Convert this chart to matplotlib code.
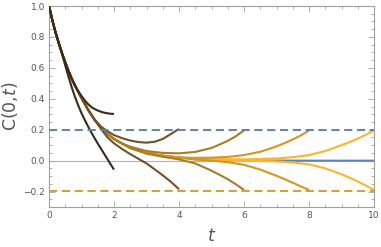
import matplotlib
matplotlib.use("Agg")
import matplotlib.pyplot as plt
from matplotlib.ticker import MultipleLocator

# exact correlation (blue, mostly hidden beneath the approximations)
t_exact = [0, 0.1, 0.2, 0.3, 0.4, 0.5, 0.6, 0.7, 0.8, 0.9, 1.0, 1.2, 1.4, 1.6, 1.8, 2.0,
           2.25, 2.5, 2.75, 3.0, 3.5, 4.0, 4.5, 5.0, 5.5, 6.0, 7.0, 8.0, 9.0, 10.0]
c_exact = [1, 0.91, 0.83, 0.76, 0.695, 0.635, 0.58, 0.53, 0.485, 0.445, 0.405, 0.33, 0.265,
           0.215, 0.172, 0.14, 0.11, 0.085, 0.066, 0.052, 0.032, 0.02, 0.012, 0.008, 0.005,
           0.003, 0.001, 0.0, 0.0, 0.0]

# Approximations: each follows the exact curve until its own branch starts
T_values = [2, 4, 6, 8, 10]

tu_2 = [0.9, 1.0, 1.1, 1.2, 1.3, 1.4, 1.5, 1.6, 1.7, 1.8, 1.9, 2.0]
up_2 = [0.45, 0.418, 0.39, 0.366, 0.347, 0.334, 0.324, 0.316, 0.31, 0.306, 0.303, 0.302]
tl_2 = [0.4, 0.5, 0.6, 0.7, 0.8, 0.9, 1.0, 1.1, 1.2, 1.3, 1.4, 1.5, 1.6, 1.7, 1.8, 1.9, 2.0]
lo_2 = [0.69, 0.615, 0.543, 0.474, 0.412, 0.357, 0.307, 0.263, 0.222, 0.183, 0.146, 0.111, 0.077,
        0.043, 0.009, -0.025, -0.058]

tu_4 = [1.6, 1.8, 2.0, 2.25, 2.5, 2.75, 3.0, 3.25, 3.5, 3.75, 4.0]
up_4 = [0.22, 0.19, 0.165, 0.145, 0.13, 0.12, 0.116, 0.122, 0.14, 0.172, 0.205]
tl_4 = [1.6, 1.8, 2.0, 2.25, 2.5, 2.75, 3.0, 3.25, 3.5, 3.75, 4.0]
lo_4 = [0.205, 0.15, 0.112, 0.075, 0.042, 0.012, -0.018, -0.056, -0.095, -0.137, -0.185]

tu_6 = [2.5, 3.0, 3.5, 4.0, 4.5, 5.0, 5.25, 5.5, 5.75, 6.0]
up_6 = [0.09, 0.062, 0.05, 0.047, 0.056, 0.082, 0.104, 0.128, 0.158, 0.195]
tl_6 = [2.5, 3.0, 3.5, 4.0, 4.5, 5.0, 5.25, 5.5, 5.75, 6.0]
lo_6 = [0.08, 0.045, 0.025, 0.008, -0.018, -0.065, -0.092, -0.12, -0.153, -0.19]

tu_8 = [4.5, 5.0, 5.5, 6.0, 6.5, 7.0, 7.25, 7.5, 7.75, 8.0]
up_8 = [0.018, 0.019, 0.024, 0.036, 0.057, 0.092, 0.113, 0.137, 0.163, 0.195]
tl_8 = [4.5, 5.0, 5.5, 6.0, 6.5, 7.0, 7.25, 7.5, 7.75, 8.0]
lo_8 = [0.006, 0.0, -0.01, -0.027, -0.058, -0.098, -0.12, -0.143, -0.167, -0.19]

tu_10 = [5.0, 6.0, 7.0, 7.5, 8.0, 8.5, 9.0, 9.25, 9.5, 9.75, 10.0]
up_10 = [0.01, 0.008, 0.014, 0.022, 0.036, 0.062, 0.1, 0.12, 0.143, 0.167, 0.195]
tl_10 = [5.0, 6.0, 7.0, 7.5, 8.0, 8.5, 9.0, 9.25, 9.5, 9.75, 10.0]
lo_10 = [0.004, 0.0, -0.005, -0.012, -0.024, -0.05, -0.088, -0.11, -0.135, -0.161, -0.19]

bound = 0.195
x_ticks = [0, 2, 4, 6, 8, 10]
y_ticks = [-0.2, 0.0, 0.2, 0.4, 0.6, 0.8, 1.0]
y_ticklabels = ["\u22120.2", "0.0", "0.2", "0.4", "0.6", "0.8", "1.0"]


def branch(t_tail, v_tail):
    t0 = t_tail[0]
    tt = [t for t in t_exact if t < t0 - 1e-9] + list(t_tail)
    vv = [v for t, v in zip(t_exact, c_exact) if t < t0 - 1e-9] + list(v_tail)
    return tt, vv


fig = plt.figure(figsize=(3.81, 2.47), dpi=100)
ax = fig.add_axes([49/381, 40/247, 325/381, 201/247])

ax.axhline(0, color="#b4b4b4", lw=0.8, zorder=1)
ax.plot(t_exact, c_exact, color="#5e81b5", lw=1.4, zorder=2)

branches = [
    (tu_10, up_10, tl_10, lo_10, "#fdb52c"),
    (tu_8, up_8, tl_8, lo_8, "#d4961f"),
    (tu_6, up_6, tl_6, lo_6, "#a87b25"),
    (tu_4, up_4, tl_4, lo_4, "#6e5228"),
    (tu_2, up_2, tl_2, lo_2, "#3b2a1c"),
]
for i, (tu, up, tl, lo, col) in enumerate(branches):
    for t_tail, v_tail in ((tu, up), (tl, lo)):
        tt, vv = branch(t_tail, v_tail)
        ax.plot(tt, vv, color=col, lw=1.5, zorder=3 + i,
                solid_capstyle="butt", solid_joinstyle="round")

ax.axhline(bound, color="#5e81b5", lw=1.4, ls=(0, (4.2, 2.4)), zorder=10)
ax.axhline(-bound, color="#e19c24", lw=1.4, ls=(0, (4.2, 2.4)), zorder=10)

ax.set_xlim(0, 10)
ax.set_ylim(-0.3, 1.0)
ax.set_xticks(x_ticks)
ax.set_xticklabels([str(v) for v in x_ticks])
ax.set_yticks(y_ticks)
ax.set_yticklabels(y_ticklabels)
ax.xaxis.set_minor_locator(MultipleLocator(0.5))
ax.yaxis.set_minor_locator(MultipleLocator(0.05))

for sp in ax.spines.values():
    sp.set_color("#a0a0a0")
    sp.set_linewidth(0.8)
ax.tick_params(which="both", direction="in", color="#a0a0a0", top=True, right=True,
               labelcolor="#555555", labelsize=6.5, width=0.6, pad=3)
ax.tick_params(which="major", length=4)
ax.tick_params(which="minor", length=2)

ax.set_xlabel("$t$", fontsize=12.5, color="#555555", labelpad=5)
ax.set_ylabel("C(0,$t$)", fontsize=12.5, color="#555555", labelpad=2)

fig.savefig("out.png", dpi=100)
